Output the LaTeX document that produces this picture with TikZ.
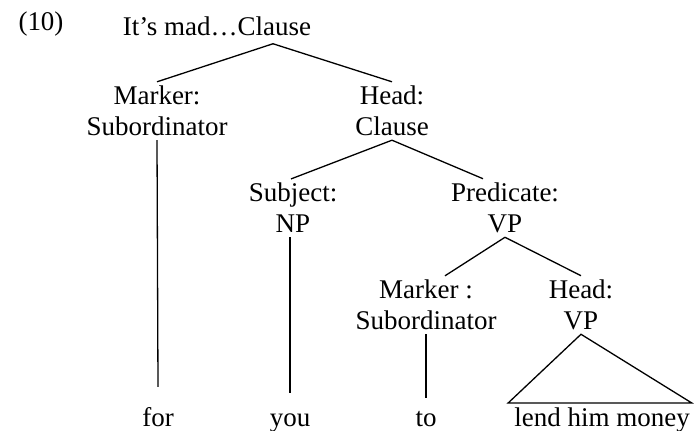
\documentclass[tikz,border=0pt]{standalone}
\usepackage{fontspec}
\setmainfont{Liberation Serif}
\begin{document}
\begin{tikzpicture}[x=1pt,y=-1pt,
  every node/.style={font=\fontsize{27}{31}\selectfont,align=center,inner sep=0pt},
  lbl/.style={inner ysep=4pt},
  leaf/.style={anchor=base},
  edge/.style={line width=1.3pt}]
\useasboundingbox (0,0) rectangle (694,431);
\node (ex) at (41,24) {(10)};
\node (top) at (217,26) {It's mad\ldots Clause};
\node[lbl] (m1) at (157,111) {Marker:\\Subordinator};
\node[lbl] (h1) at (392,111) {Head:\\Clause};
\node[lbl] (s2) at (293,208) {Subject:\\NP};
\node[lbl] (p2) at (505,208) {Predicate:\\VP};
\node[lbl] (m3) at (426,305) {Marker :\\Subordinator};
\node[lbl] (h3) at (581,305) {Head:\\VP};
\node[leaf] (for) at (158,426) {for};
\node[leaf] (you) at (290,426) {you};
\node[leaf] (to) at (426,426) {to};
\node[leaf] (lend) at (602,426) {lend him money};
\draw[edge] ([xshift=56pt,yshift=-8pt]top.south) -- (m1.north);
\draw[edge] ([xshift=56pt,yshift=-8pt]top.south) -- (h1.north);
\draw[edge] (h1.south) -- ([xshift=-2pt]s2.north);
\draw[edge] (h1.south) -- ([xshift=-22pt]p2.north);
\draw[edge] (p2.south) -- ([xshift=19pt]m3.north);
\draw[edge] (p2.south) -- (h3.north);
\draw[edge] (m1.south) -- ([yshift=20pt]for.north);
\draw[edge] ([xshift=-3pt]s2.south) -- ([yshift=20pt]you.north);
\draw[edge] (m3.south) -- ([yshift=13pt]to.north);
\draw[edge] ([xshift=-6pt,yshift=4pt]lend.north west) -- (h3.south) -- ([xshift=2pt,yshift=4pt]lend.north east) -- cycle;
\end{tikzpicture}
\end{document}
